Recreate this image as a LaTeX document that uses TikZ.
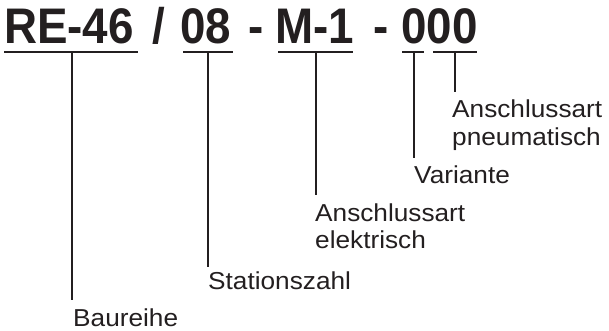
\documentclass[tikz,border=0pt]{standalone}
\usepackage{fontspec}
\setmainfont{Liberation Sans}
\definecolor{ink}{HTML}{231F20}
\tikzset{
  code/.style={anchor=base west, inner sep=0pt, font=\fontsize{50}{50}\selectfont\bfseries, text=ink},
  lbl/.style={anchor=base west, inner sep=0pt, font=\fontsize{24.5}{24.5}\selectfont, text=ink},
  rule/.style={draw=ink, line width=1.8pt},
}
\newcommand{\cond}[1]{\scalebox{0.915}[1]{#1}}
\newcommand{\wide}[1]{\scalebox{1.07}[1]{#1}}
\begin{document}
\begin{tikzpicture}[x=1pt, y=-1pt]
\useasboundingbox (0,0) rectangle (609,330);
% type code, set piece by piece
\node[code] (re)  at (4,43)   {\cond{RE-46}};
\node[code] (sl)  at (152,43) {\cond{/}};
\node[code] (st)  at (180,43) {\cond{08}};
\node[code] (d1)  at (248,43) {\cond{-}};
\node[code] (el)  at (275,43) {\cond{M-1}};
\node[code] (d2)  at (373,43) {\cond{-}};
\node[code] (pn)  at (401,43) {\cond{000}};

% underlines of the code fields
\coordinate (u1a) at (4,52);   \coordinate (u1b) at (138,52);
\coordinate (u2a) at (183,52); \coordinate (u2b) at (233,52);
\coordinate (u3a) at (278,52); \coordinate (u3b) at (353,52);
\coordinate (u4a) at (402,52); \coordinate (u4b) at (424,52);
\coordinate (u5a) at (433,52); \coordinate (u5b) at (477,52);
\foreach \i in {1,...,5} \draw[rule] (u\i a) -- (u\i b);

% field descriptions
\node[lbl] (bau) at (73,326)  {\wide{Baureihe}};
\node[lbl] (sta) at (208,289) {\wide{Stationszahl}};
\node[lbl] (ela) at (315,221) {\wide{Anschlussart}};
\node[lbl] (elb) at (315,248) {\wide{elektrisch}};
\node[lbl] (var) at (414,183) {\wide{Variante}};
\node[lbl] (pna) at (452,117) {\wide{Anschlussart}};
\node[lbl] (pnb) at (452,145) {\wide{pneumatisch}};

% leader lines
\coordinate (t1) at (72,300);
\coordinate (t2) at (208,267);
\coordinate (t3) at (316,195);
\coordinate (t4) at (414,158);
\coordinate (t5) at (455,92);
\draw[rule] (t1 |- u1a) -- (t1);
\draw[rule] (t2 |- u2a) -- (t2);
\draw[rule] (t3 |- u3a) -- (t3);
\draw[rule] (t4 |- u4a) -- (t4);
\draw[rule] (t5 |- u5a) -- (t5);
\end{tikzpicture}
\end{document}
